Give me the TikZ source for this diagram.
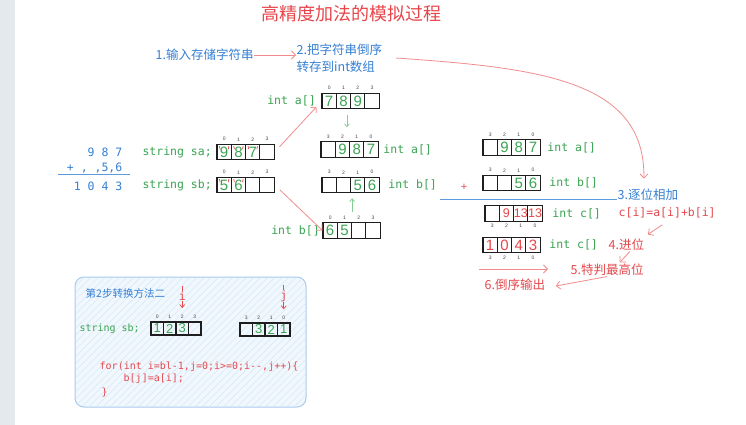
\documentclass[tikz,border=0pt]{standalone}
\usepackage{fontspec}
\setmainfont{Liberation Sans}
\setmonofont{DejaVu Sans Mono}
\newfontfamily\cjk{Noto Sans CJK SC}
\usepackage{xcolor}
\usetikzlibrary{arrows.meta,positioning,calc,patterns.meta}

\definecolor{titlered}{HTML}{E8454A}
\definecolor{redtext}{HTML}{E5484D}
\definecolor{arrowred}{HTML}{F28C8C}
\definecolor{stepblue}{HTML}{3580D4}
\definecolor{lineblue}{HTML}{5A9BE0}
\definecolor{codegreen}{HTML}{3BA452}
\definecolor{arrowgreen}{HTML}{86CC94}
\definecolor{inkblack}{HTML}{1E1E1E}
\definecolor{inkgray}{HTML}{444444}
\definecolor{boxline}{HTML}{A8CBEE}
\definecolor{boxfill}{HTML}{F0F7FD}
\definecolor{hatch}{HTML}{CFE3F6}
\definecolor{stripgray}{HTML}{E4E9ED}

\begin{document}
\begin{tikzpicture}[x=1pt, y=-1pt,
    cell/.style={draw=inkblack, line width=1.1pt, minimum width=14.3pt, minimum height=15.5pt, inner sep=0pt, font=\fontsize{15}{15}\selectfont},
    smallcell/.style={cell, minimum width=12.5pt, minimum height=13pt, font=\fontsize{13}{13}\selectfont},
    idx/.style={font=\fontsize{5}{5}\selectfont, text=inkgray, inner sep=0pt},
    code/.style={font=\ttfamily\fontsize{11.5}{13}\selectfont, inner sep=0.5pt},
    smallcode/.style={font=\ttfamily\fontsize{10}{12}\selectfont, inner sep=0.5pt},
    steplbl/.style={font=\cjk\fontsize{12.5}{14}\selectfont, inner sep=0.5pt},
    redarrow/.style={draw=arrowred, line width=0.8pt, -{Straight Barb[length=4pt,width=8pt]}},
    greenarrow/.style={draw=arrowgreen, line width=0.7pt, -{Straight Barb[length=3pt,width=5pt]}},
    sumline/.style={draw=lineblue, line width=1pt},
    ptr/.style={draw=redtext, line width=0.7pt},
    tick/.style={draw=redtext, line width=0.7pt}
]
\useasboundingbox (0,0) rectangle (746,425);
\fill[white] (0,0) rectangle (746,425);
\fill[stripgray] (0,0) rectangle (15,425);

% Title and steps
\node[font=\cjk\fontsize{18}{20}\selectfont, text=titlered] (title) at (351,14) {高精度加法的模拟过程};
\node[steplbl, text=stepblue, anchor=west] (step1) at (155,55) {1.输入存储字符串};
\node[steplbl, text=stepblue, anchor=west] (step2) at (296,50) {2.把字符串倒序};
\node[steplbl, text=stepblue, anchor=west] (step2b) at (296,67) {转存到int数组};
\node[steplbl, text=stepblue, anchor=west] (step3) at (617,195) {3.逐位相加};
\node[code, text=redtext, anchor=west] (formula) at (618,213) {c[i]=a[i]+b[i]};
\node[steplbl, text=redtext, anchor=west] (step4) at (608,245) {4.进位};
\node[steplbl, text=redtext, anchor=west] (step5) at (570,270) {5.特判最高位};
\node[steplbl, text=redtext, anchor=west] (step6) at (484,285) {6.倒序输出};

% Column addition
\node[code, text=stepblue, anchor=east] (add1) at (123,152) {9 8 7};
\node[code, text=stepblue, anchor=east] (add2) at (123,168) {+ , ,5,6};
\node[code, text=stepblue, anchor=east] (add3) at (123,186) {1 0 4 3};
\draw[sumline] (58,174) -- (130,174);

% Strings
\foreach \v/\i [count=\k from 0] in {9/0,8/1,7/2,{}/3} {
  \node[cell, text=codegreen] (sa\k) at (224.15+14.3*\k,152) {\v};
  \node[idx, above=2.5pt of sa\k] (sai\k) {\i};
}
\foreach \v/\i [count=\k from 0] in {5/0,6/1,{}/2,{}/3} {
  \node[cell, text=codegreen] (sb\k) at (224.15+14.3*\k,185) {\v};
  \node[idx, above=2.5pt of sb\k] (sbi\k) {\i};
}
\foreach \c in {sa0,sa1,sa2,sb0,sb1} {
  \draw[tick] ($(\c.north west)+(3,2.5)$) -- ++(0.6,3);
  \draw[tick] ($(\c.north east)+(-3,2.5)$) -- ++(-0.6,3);
}
\node[code, text=codegreen, left=4pt of sa0] (salbl) {string sa;};
\node[code, text=codegreen, left=4pt of sb0] (sblbl) {string sb;};

% Int arrays
\foreach \v/\i [count=\k from 0] in {7/0,8/1,9/2,{}/3} {
  \node[cell, text=codegreen] (ia\k) at (329.15+14.3*\k,101) {\v};
  \node[idx, above=2.5pt of ia\k] (iai\k) {\i};
}
\foreach \v/\i [count=\k from 0] in {{}/3,9/2,8/1,7/0} {
  \node[cell, text=codegreen] (ra\k) at (328.15+14.3*\k,149.5) {\v};
  \node[idx, above=2.5pt of ra\k] (rai\k) {\i};
}
\foreach \v/\i [count=\k from 0] in {{}/3,{}/2,5/1,6/0} {
  \node[cell, text=codegreen] (rb\k) at (329.15+14.3*\k,185) {\v};
  \node[idx, above=2.5pt of rb\k] (rbi\k) {\i};
}
\foreach \v/\i [count=\k from 0] in {6/0,5/1,{}/2,{}/3} {
  \node[cell, text=codegreen] (ib\k) at (330.15+14.3*\k,230.5) {\v};
  \node[idx, above=2.5pt of ib\k] (ibi\k) {\i};
}
\node[code, text=codegreen, left=5pt of ia0] (ialbl) {int a[]};
\node[code, text=codegreen, right=4pt of ra3] (ralbl) {int a[]};
\node[code, text=codegreen, right=8pt of rb3] (rblbl) {int b[]};
\node[code, text=codegreen, left=2pt of ib0] (iblbl) {int b[]};

% Digit-wise addition
\foreach \v/\i [count=\k from 0] in {{}/3,9/2,8/1,7/0} {
  \node[cell, text=codegreen] (pa\k) at (490.15+14.3*\k,147.5) {\v};
  \node[idx, above=2.5pt of pa\k] (pai\k) {\i};
}
\foreach \v/\i [count=\k from 0] in {{}/3,{}/2,5/1,6/0} {
  \node[cell, text=codegreen] (pb\k) at (490.15+14.3*\k,183) {\v};
  \node[idx, above=2.5pt of pb\k] (pbi\k) {\i};
}
\foreach \v/\i [count=\k from 0] in {{}/3,9/2,13/1,13/0} {
  \node[cell, text=redtext, font=\fontsize{12.5}{12.5}\selectfont] (ca\k) at (492.15+14.3*\k,213.5) {\v};
  \node[idx, below=2.5pt of ca\k] (cai\k) {\i};
}
\foreach \v/\i [count=\k from 0] in {1/3,0/2,4/1,3/0} {
  \node[cell, text=redtext] (cb\k) at (490.15+14.3*\k,245) {\v};
  \node[idx, below=2.5pt of cb\k] (cbi\k) {\i};
}
\node[code, text=codegreen, right=6pt of pa3] (palbl) {int a[]};
\node[code, text=codegreen, right=8pt of pb3] (pblbl) {int b[]};
\node[code, text=codegreen, right=9pt of ca3] (calbl) {int c[]};
\node[code, text=codegreen, right=8pt of cb3] (cblbl) {int c[]};
\node[font=\fontsize{11}{11}\selectfont, text=redtext] (plus) at (464,187) {+};
\coordinate (sumstart) at (440,199);
\draw[sumline] (sumstart) -- (sumstart -| step3.west);

% Arrows
\draw[redarrow] (step1.east) -- (step1.east -| step2.west);
\draw[redarrow] ($(step2.east)+(13,8)$) .. controls (540,68) and (645,80) .. ($(step3.north)+(-4,-10)$);
\draw[redarrow, shorten <=7pt] (sa3.east) -- (ialbl.south east);
\draw[redarrow, shorten <=7pt] (sb3.east) -- (ib0.west);
\draw[greenarrow] ($(ia1.south)+(3.5,6)$) -- ($(ia1.south)+(3.5,18)$);
\draw[greenarrow] ($(ib1.north east)+(0,-10)$) -- ($(ib1.north east)+(0,-24)$);
\draw[redarrow] ($(formula.south)+(-5,6)$) -- ($(step4.north east)+(3,-4)$);
\draw[redarrow] ($(step4.south)+(3.5,0)$) -- ($(step5.north)+(12.5,-1)$);
\draw[redarrow] (step5.south) -- ($(step6.east)+(10,1)$);
\coordinate (outl) at (479,269);
\coordinate (outr) at (548,269);
\draw[redarrow] (outl) -- (outr);

% Method two box
\draw[draw=boxline, line width=1pt, fill=boxfill, rounded corners=9pt] (75,277) rectangle (306,407);
\fill[pattern={Lines[angle=45,distance=5pt,line width=0.35pt]}, pattern color=hatch, rounded corners=9pt] (76,278) rectangle (305,406);
\node[steplbl, font=\cjk\fontsize{10.5}{12}\selectfont, text=stepblue, anchor=west] (boxtitle) at (85,293) {第2步转换方法二};
\foreach \v/\i [count=\k from 0] in {1/0,2/1,3/2,{}/3} {
  \node[smallcell, text=codegreen] (bs\k) at (157.25+12.5*\k,328.5) {\v};
  \node[idx, above=2.5pt of bs\k] (bsi\k) {\i};
}
\foreach \v/\i [count=\k from 0] in {{}/3,3/2,2/1,1/0} {
  \node[smallcell, text=codegreen] (rv\k) at (246.25+12.5*\k,329.5) {\v};
  \node[idx, above=2.5pt of rv\k] (rvi\k) {\i};
}
\node[smallcode, text=codegreen, left=10pt of bs0] (bslbl) {string sb;};
\node[code, text=redtext] (ptri) at (bs2 |- 0,296) {i};
\node[code, text=redtext] (ptrj) at (rv3 |- 0,296) {j};
\draw[ptr] (ptri.north) -- ++(0,-5);
\draw[ptr, -{Straight Barb[length=3pt,width=5pt]}] (ptri.south) -- ++(0,7);
\draw[ptr] (ptrj.north) -- ++(0,-5);
\draw[ptr, -{Straight Barb[length=3pt,width=5pt]}] (ptrj.south) -- ++(0,7);
\node[smallcode, text=redtext, anchor=west] (loop1) at (99,367) {for(int i=bl-1,j=0;i>=0;i--,j++)\{};
\node[smallcode, text=redtext, anchor=west] (loop2) at (123,379) {b[j]=a[i];};
\node[smallcode, text=redtext, anchor=west] (loop3) at (101,393) {\}};

\end{tikzpicture}
\end{document}
